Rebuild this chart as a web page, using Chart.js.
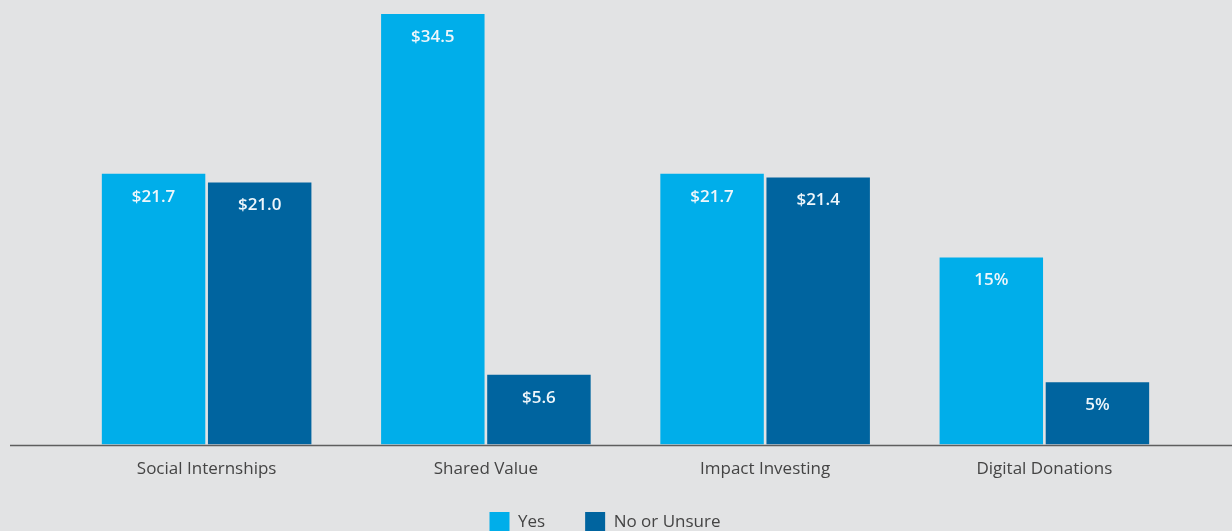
<!DOCTYPE html>
<html>
<head>
<meta charset="utf-8">
<script src="https://cdn.jsdelivr.net/npm/chart.js@4.4.1/dist/chart.umd.min.js"></script>
<style>
  html, body { margin: 0; padding: 0; background: #e2e3e4; overflow: hidden; }
  #wrap { position: relative; width: 1232px; height: 563px; }
</style>
</head>
<body>
<div id="wrap"><canvas id="chart"></canvas></div>
<script>
// categories and series values
const categories = ['Social Internships', 'Shared Value', 'Impact Investing', 'Digital Donations'];
const yesValues = [21.7, 34.5, 21.7, 15];
const noValues = [21.0, 5.6, 21.4, 5];
const yesLabels = ['$21.7', '$34.5', '$21.7', '15%'];
const noLabels = ['$21.0', '$5.6', '$21.4', '5%'];

// value labels inside the top of each bar + baseline across the full width
const barText = {
  id: 'barText',
  beforeDraw(chart) {
    // legend in the original sits a little left of centre and close to the axis
    const lg = chart.legend;
    if (lg && !lg._moved) {
      lg.left = 0;
      lg.right = 1210;
      lg.top -= 21;
      lg.bottom -= 21;
      lg._moved = true;
    }
  },
  afterDatasetsDraw(chart) {
    const ctx = chart.ctx;
    ctx.save();
    ctx.font = '600 17px "Open Sans", sans-serif';
    ctx.fillStyle = '#eef6fb';
    ctx.textAlign = 'center';
    ctx.textBaseline = 'middle';
    const texts = [yesLabels, noLabels];
    chart.data.datasets.forEach((ds, i) => {
      chart.getDatasetMeta(i).data.forEach((bar, j) => {
        ctx.fillText(texts[i][j], bar.x, bar.y + 23);
      });
    });
    // axis line
    const y = chart.chartArea.bottom + 1;
    ctx.strokeStyle = '#5e5e5e';
    ctx.lineWidth = 1.5;
    ctx.beginPath();
    ctx.moveTo(10, y);
    ctx.lineTo(chart.width, y);
    ctx.stroke();
    ctx.restore();
  }
};

new Chart(document.getElementById('chart'), {
  type: 'bar',
  data: {
    labels: categories,
    datasets: [{
      label: 'Yes',
      data: yesValues,
      backgroundColor: '#00aeea',
      categoryPercentage: 0.76,
      barPercentage: 0.975
    }, {
      label: 'No or Unsure',
      data: noValues,
      backgroundColor: '#00649f',
      categoryPercentage: 0.76,
      barPercentage: 0.975
    }]
  },
  options: {
    responsive: true,
    maintainAspectRatio: false,
    animation: false,
    layout: { padding: { left: 67, right: 48, top: 14, bottom: 0 } },
    scales: {
      x: {
        grid: { display: false, drawTicks: false },
        border: { display: false },
        ticks: { padding: 14, color: '#444', font: { family: '"Open Sans", sans-serif', size: 17 } }
      },
      y: { display: false, min: 0, max: 34.5 }
    },
    plugins: {
      legend: {
        position: 'bottom',
        labels: {
          boxWidth: 20, boxHeight: 20, padding: 40,
          color: '#444',
          font: { family: '"Open Sans", sans-serif', size: 17 }
        }
      },
      tooltip: { enabled: false }
    }
  },
  plugins: [barText]
});
</script>
</body>
</html>
